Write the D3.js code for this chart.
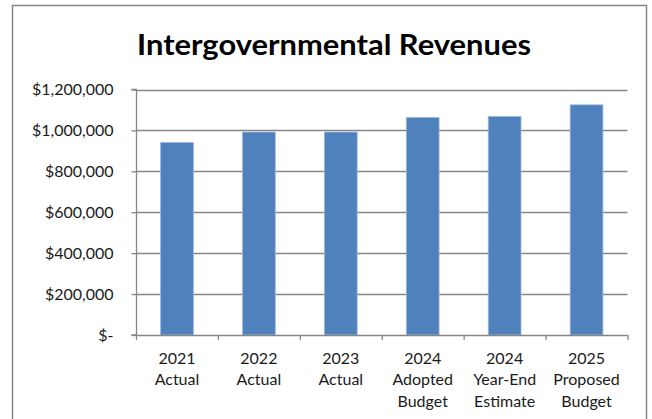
<!DOCTYPE html>
<html>
<head>
<meta charset="utf-8">
<script src="https://cdn.jsdelivr.net/npm/d3@7"></script>
<style>
  html, body { margin: 0; padding: 0; background: #fff; }
  svg { display: block; }
</style>
</head>
<body>
<svg id="chart" width="652" height="419"></svg>
<script>
// Intergovernmental revenues by fiscal period
const categories = [
  ["2021", "Actual"],
  ["2022", "Actual"],
  ["2023", "Actual"],
  ["2024", "Adopted", "Budget"],
  ["2024", "Year-End", "Estimate"],
  ["2025", "Proposed", "Budget"]
];
const revenues = [941000, 992000, 992000, 1063000, 1068000, 1125000];
const yTicks = [0, 200000, 400000, 600000, 800000, 1000000, 1200000];
const titleText = "Intergovernmental Revenues";

const svg = d3.select("#chart");
const font = "Lato, 'Open Sans', sans-serif";
const gridColor = "#868686";
const labelSize = 16;

// chart frame
svg.append("rect")
  .attr("x", 12.5).attr("y", 5.5)
  .attr("width", 634).attr("height", 420)
  .attr("fill", "#fff")
  .attr("stroke", gridColor).attr("stroke-width", 1.5);

// title
svg.append("text")
  .attr("x", 137).attr("y", 54.5)
  .attr("font-family", font)
  .attr("font-weight", 700)
  .attr("font-size", 28)
  .attr("textLength", 394)
  .attr("lengthAdjust", "spacingAndGlyphs")
  .attr("fill", "#000")
  .text(titleText);

const plot = { left: 136, right: 627.5, top: 89.5, bottom: 335 };

const x = d3.scaleBand()
  .domain(d3.range(categories.length))
  .range([plot.left, plot.right])
  .paddingInner(0.6)
  .paddingOuter(0.3);

const y = d3.scaleLinear()
  .domain([0, 1200000])
  .range([plot.bottom, plot.top]);

// horizontal gridlines
svg.append("g")
  .selectAll("line")
  .data(yTicks.filter(d => d > 0))
  .join("line")
  .attr("x1", plot.left).attr("x2", plot.right)
  .attr("y1", d => Math.round(y(d)) + 0.5).attr("y2", d => Math.round(y(d)) + 0.5)
  .attr("stroke", gridColor).attr("stroke-width", 1.3);

// bars
svg.append("g")
  .selectAll("rect")
  .data(revenues)
  .join("rect")
  .attr("x", (d, i) => x(i))
  .attr("width", x.bandwidth())
  .attr("y", d => y(d))
  .attr("height", d => y(0) - y(d))
  .attr("fill", "#4F81BD")
  .attr("stroke", "#9db8dc")
  .attr("stroke-width", 0.8);

// y axis
const yAxis = d3.axisLeft(y)
  .tickValues(yTicks)
  .tickSize(5)
  .tickPadding(18)
  .tickFormat(d => d === 0 ? "$-" : "$" + d3.format(",")(d));

const gy = svg.append("g")
  .attr("transform", `translate(${plot.left + 0.5},0)`)
  .call(yAxis);
gy.select(".domain").attr("stroke", gridColor).attr("stroke-width", 1.3)
  .attr("d", `M-5,${plot.bottom}H0V${plot.top}H-5`);
gy.selectAll(".tick line").attr("stroke", gridColor).attr("stroke-width", 1.3);
gy.selectAll(".tick text")
  .attr("font-family", font).attr("font-size", labelSize).attr("fill", "#1a1a1a");

// x axis
const step = x.step();
const boundaries = d3.range(categories.length + 1).map(i => plot.left + i * step);
const gx = svg.append("g");
gx.append("line")
  .attr("x1", plot.left).attr("x2", plot.right)
  .attr("y1", plot.bottom + 0.5).attr("y2", plot.bottom + 0.5)
  .attr("stroke", gridColor).attr("stroke-width", 1.3);
gx.selectAll("line.tick")
  .data(boundaries)
  .join("line")
  .attr("class", "tick")
  .attr("x1", d => d + 0.5).attr("x2", d => d + 0.5)
  .attr("y1", plot.bottom).attr("y2", plot.bottom + 5)
  .attr("stroke", gridColor).attr("stroke-width", 1.3);

const labels = gx.selectAll("text")
  .data(categories)
  .join("text")
  .attr("text-anchor", "middle")
  .attr("font-family", font)
  .attr("font-size", labelSize)
  .attr("fill", "#1a1a1a");
labels.selectAll("tspan")
  .data((d, i) => d.map(line => ({ line, i })))
  .join("tspan")
  .attr("x", d => x(d.i) + x.bandwidth() / 2)
  .attr("y", (d, j) => 363.5 + j * 21.5)
  .text(d => d.line);
</script>
</body>
</html>
